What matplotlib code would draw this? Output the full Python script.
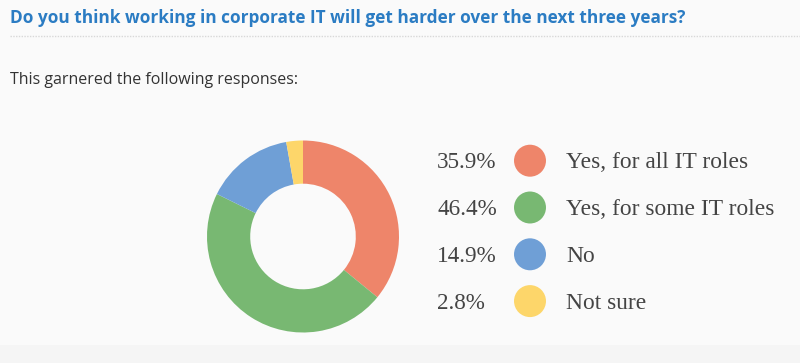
import matplotlib
matplotlib.use("Agg")
import matplotlib.pyplot as plt

categories = ["Yes, for all IT roles", "Yes, for some IT roles", "No", "Not sure"]
values = [35.9, 46.4, 14.9, 2.8]
pct_labels = ["35.9%", "46.4%", "14.9%", "2.8%"]
colors = ["#EE856A", "#78B872", "#6F9FD6", "#FDD66A"]

title = "Do you think working in corporate IT will get harder over the next three years?"
subtitle = "This garnered the following responses:"

W, H = 800, 363
fig = plt.figure(figsize=(W / 100, H / 100), dpi=100)
fig.patch.set_facecolor("#FAFAFA")

# overlay axes in pixel coordinates
bg = fig.add_axes([0, 0, 1, 1])
bg.set_xlim(0, W)
bg.set_ylim(H, 0)
bg.axis("off")
bg.axhspan(345, H, color="#F5F5F5", zorder=0, lw=0)
bg.text(10, 18, title, fontsize=12.45, fontweight="bold", color="#2B7CC3",
        family="Open Sans", va="center", ha="left")
bg.plot([10, W], [36, 36], color="#D8D8D8", lw=1, ls=(0, (1, 1)))
bg.text(10, 80, subtitle, fontsize=11.5, color="#333333",
        family="Open Sans", va="center", ha="left")

# donut
cx, cy, r = 303, 236.5, 96
ax = fig.add_axes([(cx - r) / W, (H - cy - r) / H, 2 * r / W, 2 * r / H])
ax.pie(values, colors=colors, startangle=90, counterclock=False, radius=1,
       wedgeprops=dict(width=0.45, edgecolor="none"))
ax.set_xlim(-1, 1)
ax.set_ylim(-1, 1)
ax.set_aspect("equal")
ax.axis("off")

# legend
ys = [160.7 + 46.8 * i for i in range(len(categories))]
bg.scatter([530] * len(categories), ys, s=530, c=colors, edgecolors="none")
for y, p, c in zip(ys, pct_labels, categories):
    bg.text(437, y + 2, p, fontsize=16.7, family="Liberation Serif", color="#444444",
            va="center", ha="left")
    bg.text(566, y + 2, c, fontsize=16.9, family="Liberation Serif", color="#444444",
            va="center", ha="left")

fig.savefig("out.png", dpi=100, facecolor=fig.get_facecolor())
